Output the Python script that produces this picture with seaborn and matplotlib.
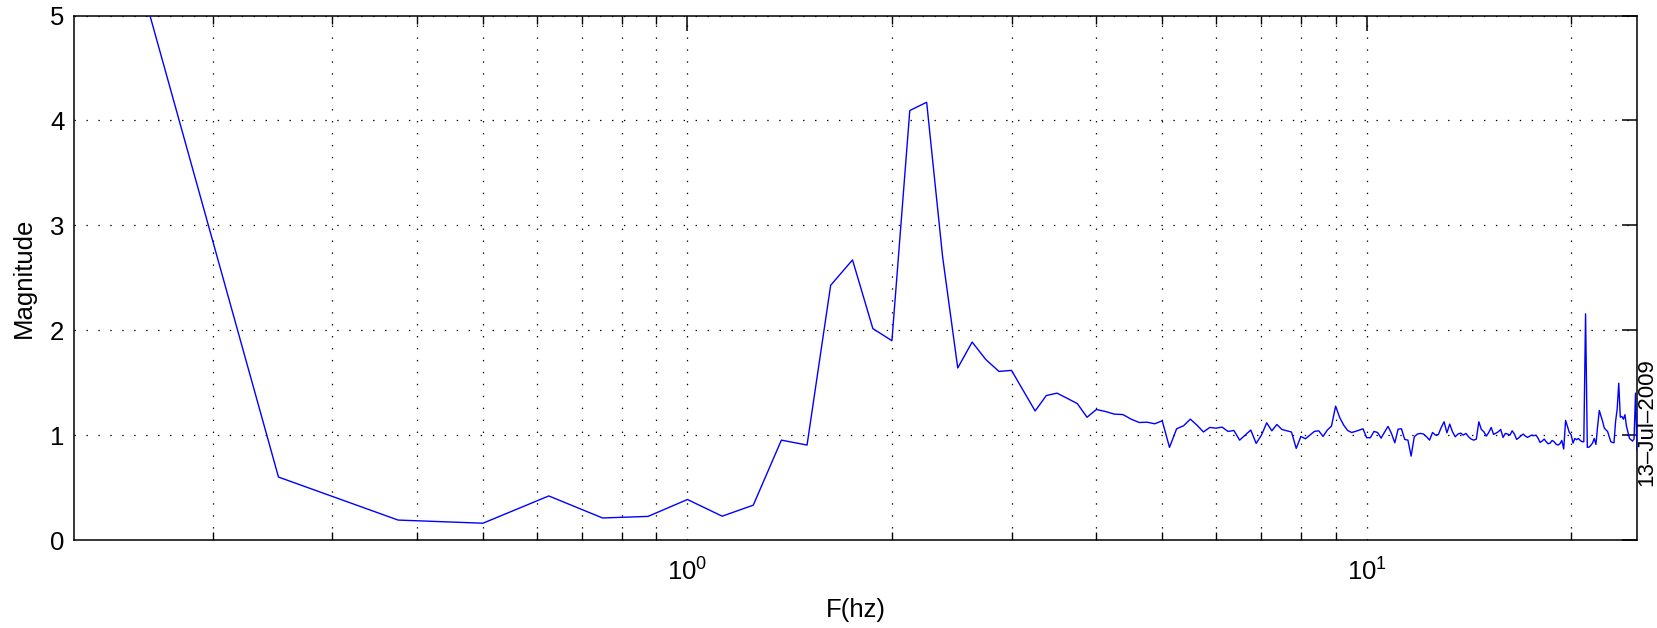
import numpy as np
import matplotlib
matplotlib.use("Agg")
import matplotlib.pyplot as plt
import matplotlib.ticker as mticker
import seaborn as sns

# ---------------- data ----------------
freq_step = 0.125          # Hz, spectral resolution
freq_max = 25.0
freq = np.arange(1, int(freq_max / freq_step) + 1) * freq_step   # 0.125 ... 25 Hz

# magnitude, 0.125 .. 6.0 Hz
mag_low = [7.6, 0.60, 0.19, 0.16, 0.42, 0.21, 0.225, 0.386,
           0.227, 0.332, 0.952, 0.905, 2.428, 2.67, 2.015, 1.90,
           4.094, 4.173, 2.70, 1.64, 1.887, 1.72, 1.607, 1.617,
           1.42, 1.23, 1.377, 1.40, 1.35, 1.30, 1.17, 1.244,
           1.225, 1.20, 1.196, 1.152, 1.12, 1.123, 1.108, 1.136,
           0.883, 1.06, 1.089, 1.152, 1.095, 1.03, 1.073, 1.066]
# 6.125 .. 11.0 Hz
mag_mid = [1.076, 1.035, 1.044, 0.952, 1.0, 1.048, 0.921, 1.0,
           1.117, 1.041, 1.101, 1.054, 1.041, 1.029, 0.873, 0.987,
           0.965, 1.0, 1.035, 1.041, 0.987, 1.048, 1.086, 1.276,
           1.168, 1.095, 1.044, 1.025, 1.035, 1.048, 1.06, 0.975,
           0.975, 1.035, 1.025, 0.971, 1.029, 1.083, 1.016, 0.927]
# 11.125 .. 17.375 Hz
mag_high = [1.057, 1.06, 0.959, 0.952, 0.80, 0.984, 1.01, 1.016,
            1.01, 0.984, 0.952, 1.025, 1.0, 1.006, 1.073, 1.127,
            1.022, 1.105, 1.032, 0.984, 1.01, 1.019, 1.0, 1.016,
            0.984, 0.962, 0.952, 0.962, 1.127, 1.054, 1.032, 0.99,
            1.025, 1.073, 1.006, 1.019, 1.032, 1.054, 0.978, 1.016,
            1.01, 1.0, 1.041, 1.01, 0.959, 0.975, 0.994, 1.01,
            0.99, 0.978, 0.99]
# 17.5 .. 25.0 Hz
mag_top = [1.0, 0.994, 1.0, 0.971, 0.93, 0.943, 0.962, 0.937,
           0.917, 0.924, 0.949, 0.937, 0.914, 0.905, 0.917, 0.949,
           0.867, 1.14, 1.083, 1.025, 1.003, 0.924, 0.968, 0.956,
           0.968, 0.949, 0.937, 0.937, 2.156, 0.883, 0.886, 0.902,
           0.924, 0.968, 0.911, 1.083, 1.235, 1.184, 1.13, 1.067,
           1.05, 1.035, 0.987, 0.937, 0.93, 0.927, 1.13, 1.248,
           1.495, 1.171, 1.178, 1.152, 1.194, 1.083, 1.025, 0.968,
           0.956, 0.943, 0.962, 1.40, 0.85]

magnitude = np.array(mag_low + mag_mid + mag_high + mag_top)
assert len(magnitude) == len(freq)

y_ticks = [0, 1, 2, 3, 4, 5]
x_label = "F(hz)"
y_label = "Magnitude"
date_text = "13\u2013Jul\u20132009"

# ---------------- style ----------------
sns.set_theme(style="white")
plt.rcParams["font.family"] = ["Liberation Sans", "DejaVu Sans"]
plt.rcParams["mathtext.fontset"] = "custom"
plt.rcParams["mathtext.rm"] = "Liberation Sans"
plt.rcParams["mathtext.it"] = "Liberation Sans"
plt.rcParams["lines.scale_dashes"] = False

FS = 18.5
W, H = 1658, 628
fig = plt.figure(figsize=(W / 100, H / 100), dpi=100)
ax = fig.add_axes([74 / W, 1 - 540 / H, (1637 - 74) / W, (540 - 15.5) / H])

sns.lineplot(x=freq, y=magnitude, ax=ax, color="#0000ff", linewidth=1.0,
             sort=False, estimator=None, zorder=3)

ax.set_xscale("log")
ax.set_xlim(0.125, 25)
ax.set_ylim(0, 5)
ax.set_yticks(y_ticks)
ax.set_yticklabels([str(v) for v in y_ticks])
ax.xaxis.set_major_locator(mticker.LogLocator(base=10, numticks=10))
ax.xaxis.set_minor_locator(mticker.LogLocator(base=10, subs=np.arange(2, 10), numticks=20))
ax.xaxis.set_minor_formatter(mticker.NullFormatter())

grid_kw = dict(color="black", linewidth=0.9, linestyle=(0, (1, 7.6)))
ax.grid(True, which="major", axis="both", **grid_kw)
ax.grid(True, which="minor", axis="x", **grid_kw)
ax.set_axisbelow(True)

for s in ax.spines.values():
    s.set_color("black")
    s.set_linewidth(1.1)
    s.set_visible(True)

ax.tick_params(axis="both", which="major", direction="in", length=11,
               width=1.1, color="black", top=True, right=True,
               labelsize=FS, labelcolor="black", pad=7)
ax.tick_params(axis="x", which="minor", direction="in", length=5.5,
               width=1.0, color="black", top=True, bottom=True)
ax.tick_params(axis="x", which="major", pad=13)

ax.set_xlabel(x_label, fontsize=FS, color="black", labelpad=9)
ax.set_ylabel(y_label, fontsize=FS, color="black", labelpad=10)

fig.text(1647 / W, 1 - 486 / H, date_text, rotation=90, ha="center",
         va="bottom", fontsize=16, color="black")

fig.savefig("out.png", dpi=100)
